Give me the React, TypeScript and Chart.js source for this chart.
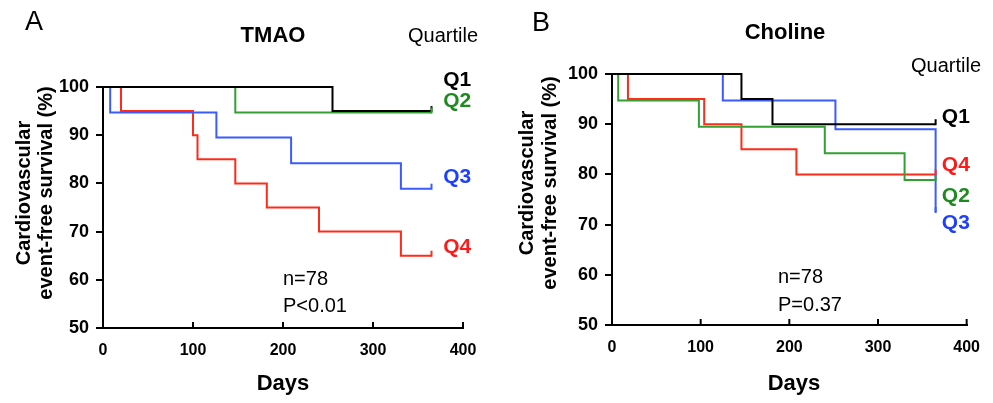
import React, { useEffect, useRef } from "react";
import { Chart, registerables } from "chart.js";

Chart.register(...registerables);

const FONT = "'Liberation Sans', Arial, Helvetica, sans-serif";

// Axis ticks
const xTickValues = [0, 100, 200, 300, 400];
const yTickValues = [50, 60, 70, 80, 90, 100];
const quartileNames = ["Q1", "Q2", "Q3", "Q4"];

// Panel A: TMAO quartiles (days, event-free survival %)
const tmaoQ1Days = [0, 255, 365];
const tmaoQ1Surv = [100, 95, 95];
const tmaoQ2Days = [0, 147, 365];
const tmaoQ2Surv = [100, 94.7, 94.7];
const tmaoQ3Days = [0, 8, 126, 209, 331, 365];
const tmaoQ3Surv = [100, 94.7, 89.5, 84.2, 78.9, 78.9];
const tmaoQ4Days = [0, 20, 100, 105, 147, 182, 240, 331, 365];
const tmaoQ4Surv = [100, 95, 90, 85, 80, 75, 70, 65, 65];

// Panel B: Choline quartiles
const cholQ1Days = [0, 146, 181, 365];
const cholQ1Surv = [100, 95, 90, 90];
const cholQ2Days = [0, 7, 98, 240, 330, 365];
const cholQ2Surv = [100, 94.7, 89.5, 84.2, 78.9, 78.9];
const cholQ3Days = [0, 125, 252, 365];
const cholQ3Surv = [100, 94.7, 89, 72.5];
const cholQ4Days = [0, 18, 104, 146, 208, 365];
const cholQ4Surv = [100, 95, 90, 85, 80, 80];

const statsA = ["n=78", "P<0.01"];
const statsB = ["n=78", "P=0.37"];

const lineColors = ["#000000", "#33a033", "#3a5cff", "#ff2a1a"];
const labelColors = ["#000000", "#1f8a1f", "#1f3fff", "#ff1a1a"];

type TextItem = {
  text: string;
  x: number;
  y: number;
  size: number;
  bold?: boolean;
  align?: CanvasTextAlign;
  rotate?: boolean;
  color?: string;
};

type PanelCfg = {
  width: number;
  padTop: number;
  padRight: number;
  yWidth: number;
  xHeight: number;
  series: { days: number[]; surv: number[] }[];
  qLabelDay: number;
  qLabelY: number[];
  texts: TextItem[];
};

const panelA: PanelCfg = {
  width: 497,
  padTop: 87,
  padRight: 34,
  yWidth: 103,
  xHeight: 75,
  series: [
    { days: tmaoQ1Days, surv: tmaoQ1Surv },
    { days: tmaoQ2Days, surv: tmaoQ2Surv },
    { days: tmaoQ3Days, surv: tmaoQ3Surv },
    { days: tmaoQ4Days, surv: tmaoQ4Surv },
  ],
  qLabelDay: 378,
  qLabelY: [101.4, 97.1, 81.3, 66.8],
  texts: [
    { text: "A", x: 25, y: 23, size: 27, align: "left" },
    { text: "TMAO", x: 273, y: 36, size: 22, bold: true, align: "center" },
    { text: "Quartile", x: 408, y: 36, size: 20, align: "left" },
    { text: "Cardiovascular", x: 24, y: 193, size: 20, bold: true, align: "center", rotate: true },
    { text: "event-free survival (%)", x: 46, y: 193, size: 20, bold: true, align: "center", rotate: true },
    { text: "Days", x: 283, y: 384, size: 22, bold: true, align: "center" },
    { text: statsA[0], x: 283, y: 279, size: 20, align: "left" },
    { text: statsA[1], x: 283, y: 306, size: 20, align: "left" },
  ],
};

const panelB: PanelCfg = {
  width: 496,
  padTop: 74,
  padRight: 21,
  yWidth: 115,
  xHeight: 78,
  series: [
    { days: cholQ1Days, surv: cholQ1Surv },
    { days: cholQ2Days, surv: cholQ2Surv },
    { days: cholQ3Days, surv: cholQ3Surv },
    { days: cholQ4Days, surv: cholQ4Surv },
  ],
  qLabelDay: 372,
  qLabelY: [91.4, 75.7, 70.3, 81.9],
  texts: [
    { text: "B", x: 35, y: 24, size: 27, align: "left" },
    { text: "Choline", x: 288, y: 33, size: 22, bold: true, align: "center" },
    { text: "Quartile", x: 414, y: 66, size: 20, align: "left" },
    { text: "Cardiovascular", x: 30, y: 183, size: 20, bold: true, align: "center", rotate: true },
    { text: "event-free survival (%)", x: 53, y: 183, size: 20, bold: true, align: "center", rotate: true },
    { text: "Days", x: 297, y: 384, size: 22, bold: true, align: "center" },
    { text: statsB[0], x: 281, y: 277, size: 20, align: "left" },
    { text: statsB[1], x: 281, y: 305, size: 20, align: "left" },
  ],
};

function buildChart(canvas: HTMLCanvasElement, cfg: PanelCfg) {
  const datasets = cfg.series.map((s, i) => ({
    label: quartileNames[i],
    data: s.days.map((d, j) => ({ x: d, y: s.surv[j] })),
    borderColor: lineColors[i],
    backgroundColor: lineColors[i],
    borderWidth: 2,
    pointRadius: 0,
    stepped: true as const,
    fill: false,
    clip: false as const,
  }));

  const decor = {
    id: "decor",
    afterDatasetsDraw(chart: any) {
      const ctx = chart.ctx as CanvasRenderingContext2D;
      ctx.save();
      ctx.lineWidth = 2;
      chart.data.datasets.forEach((ds: any, i: number) => {
        const meta = chart.getDatasetMeta(i);
        const last = meta.data[meta.data.length - 1];
        if (!last) return;
        ctx.strokeStyle = ds.borderColor;
        ctx.beginPath();
        ctx.moveTo(last.x, last.y + 1);
        ctx.lineTo(last.x, last.y - 5);
        ctx.stroke();
      });
      ctx.restore();
    },
    afterDraw(chart: any) {
      const ctx = chart.ctx as CanvasRenderingContext2D;
      const xs = chart.scales.x;
      const ys = chart.scales.y;
      const area = chart.chartArea;
      ctx.save();
      // inward x ticks
      ctx.strokeStyle = "#000";
      ctx.lineWidth = 2;
      xTickValues.forEach((t) => {
        const px = xs.getPixelForValue(t);
        ctx.beginPath();
        ctx.moveTo(px, area.bottom);
        ctx.lineTo(px, area.bottom - 6);
        ctx.stroke();
      });
      // texts
      cfg.texts.forEach((t) => {
        ctx.save();
        ctx.fillStyle = t.color || "#000";
        ctx.font = `${t.bold ? "bold " : ""}${t.size}px ${FONT}`;
        ctx.textAlign = t.align || "left";
        ctx.textBaseline = "middle";
        if (t.rotate) {
          ctx.translate(t.x, t.y);
          ctx.rotate(-Math.PI / 2);
          ctx.fillText(t.text, 0, 0);
        } else {
          ctx.fillText(t.text, t.x, t.y);
        }
        ctx.restore();
      });
      // quartile labels
      quartileNames.forEach((q, i) => {
        ctx.fillStyle = labelColors[i];
        ctx.font = `bold 21px ${FONT}`;
        ctx.textAlign = "left";
        ctx.textBaseline = "middle";
        ctx.fillText(q, xs.getPixelForValue(cfg.qLabelDay), ys.getPixelForValue(cfg.qLabelY[i]));
      });
      ctx.restore();
    },
  };

  return new Chart(canvas, {
    type: "line",
    data: { datasets },
    options: {
      animation: false,
      responsive: false,
      events: [],
      layout: { padding: { top: cfg.padTop, right: cfg.padRight, left: 0, bottom: 0 } },
      plugins: { legend: { display: false }, tooltip: { enabled: false }, title: { display: false } },
      scales: {
        x: {
          type: "linear",
          min: 0,
          max: 400,
          afterBuildTicks: (scale: any) => {
            scale.ticks = xTickValues.map((v) => ({ value: v }));
          },
          afterFit: (scale: any) => {
            scale.height = cfg.xHeight;
          },
          grid: { display: true, drawOnChartArea: false, drawTicks: false, color: "#000", lineWidth: 2 },
          border: { display: true, color: "#000", width: 2 },
          ticks: {
            color: "#000",
            padding: 13,
            maxRotation: 0,
            font: { family: FONT, size: 16, weight: "bold" },
          },
        },
        y: {
          type: "linear",
          min: 50,
          max: 100,
          afterBuildTicks: (scale: any) => {
            scale.ticks = yTickValues.map((v) => ({ value: v }));
          },
          afterFit: (scale: any) => {
            scale.width = cfg.yWidth;
          },
          grid: { drawOnChartArea: false, drawTicks: true, tickLength: 7, color: "#000", lineWidth: 2 },
          border: { display: true, color: "#000", width: 2 },
          ticks: {
            color: "#000",
            padding: 7,
            font: { family: FONT, size: 18, weight: "bold" },
          },
        },
      },
    },
    plugins: [decor],
  } as any);
}

function Panel({ cfg, left }: { cfg: PanelCfg; left: number }) {
  const ref = useRef<HTMLCanvasElement | null>(null);
  useEffect(() => {
    if (!ref.current) return;
    const chart = buildChart(ref.current, cfg);
    return () => chart.destroy();
  }, [cfg]);
  return (
    <canvas
      ref={ref}
      width={cfg.width}
      height={403}
      style={{ position: "absolute", left, top: 0, width: cfg.width, height: 403 }}
    />
  );
}

export default function App() {
  return (
    <div style={{ position: "absolute", left: 0, top: 0, width: 993, height: 403, background: "#fff", overflow: "hidden" }}>
      <Panel cfg={panelA} left={0} />
      <Panel cfg={panelB} left={497} />
    </div>
  );
}
